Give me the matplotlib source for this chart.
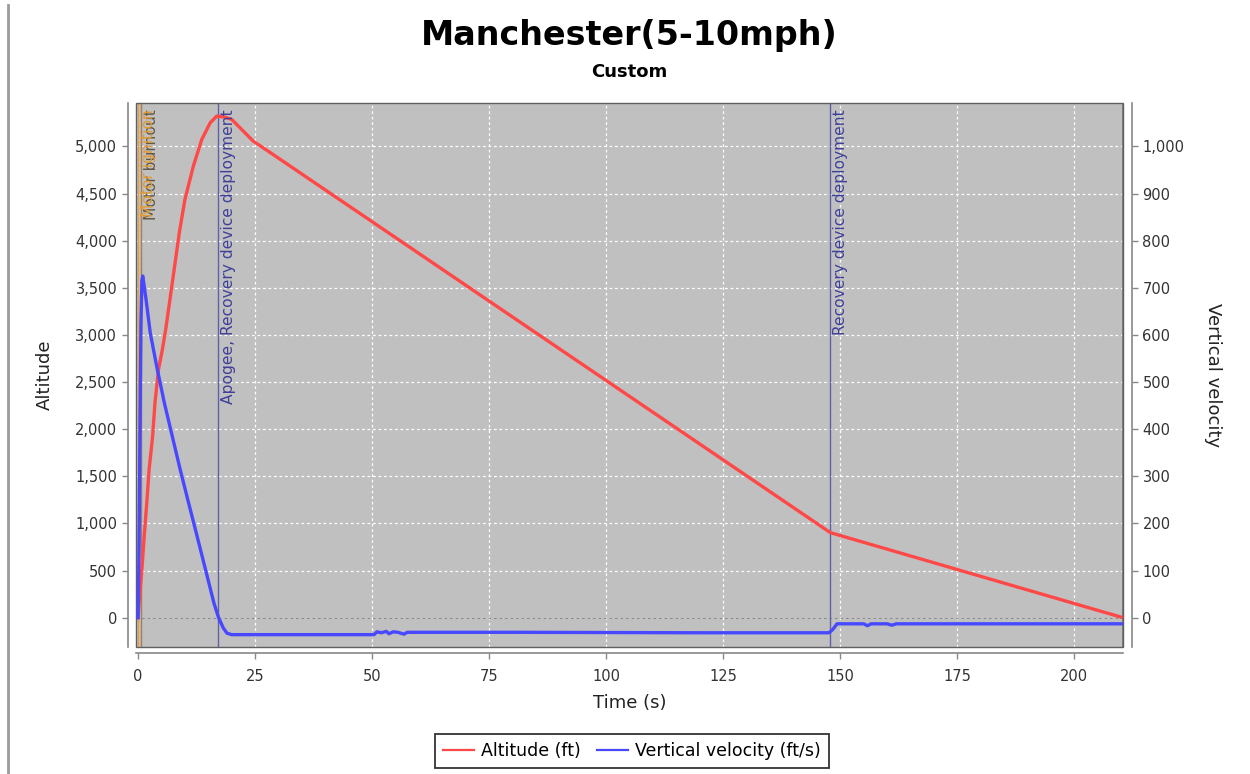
import matplotlib
matplotlib.use("Agg")
import matplotlib.pyplot as plt
from matplotlib.ticker import FuncFormatter
from matplotlib.transforms import offset_copy
from matplotlib.patches import Rectangle
from matplotlib.lines import Line2D

plt.rcParams['font.family'] = ['DejaVu Sans']

# ---------------- data ----------------
title = "Manchester(5-10mph)"
subtitle = "Custom"

t_alt = [0, 0.2, 0.8, 1.3, 1.85, 2.35, 3.1, 3.6, 4.35, 5.2, 5.9, 6.8, 7.8, 8.8,
         10.0, 11.8, 13.6, 15.4, 16.8, 18.6, 20.0, 24.6, 28.2, 147.9, 210.4]
altitude = [0, 154, 508, 862, 1217, 1571, 1925, 2279, 2633, 2850, 3060, 3376, 3730, 4084,
            4437, 4791, 5074, 5251, 5322, 5310, 5287, 5056, 4936, 902, 0]

t_vel = [0, 0.2, 0.4, 0.6, 0.8, 1.0, 1.7, 2.6, 4.0, 5.6, 7.3, 9.0, 10.8, 12.6,
         14.4, 16.2, 17.2, 18.2, 19.0, 20.0, 35.0, 50.4, 51.0, 52.0, 53.0, 53.6,
         54.5, 55.5, 56.8, 57.5, 80.0, 120.0, 147.6, 148.4, 149.3, 155.0, 155.8,
         156.6, 160.0, 161.0, 162.0, 180.0, 210.4]
velocity = [0, 150, 400, 620, 715, 725, 675, 604, 532, 456, 385, 314, 243, 173,
            102, 31, 0, -22, -33, -36, -36, -36, -30, -32, -29, -34,
            -30, -31, -35, -31, -31, -32, -32, -25, -13, -13, -17,
            -13, -13, -16, -13, -13, -13]

event_times = [0.65, 0.0, 17.1, 147.9]
event_labels = ["Motor burnout", "Motor ignition",
                "Apogee, Recovery device deployment", "Recovery device deployment"]
event_line_colors = ["#A08060", "#E8A040", "#6060A8", "#6060A8"]
event_text_colors = ["#605848", "#E39B2E", "#40409A", "#40409A"]
sim_end = [210.3]

x_ticks = [0, 25, 50, 75, 100, 125, 150, 175, 200]
alt_ticks = list(range(0, 5001, 500))
vel_ticks = list(range(0, 1001, 100))

# ---------------- figure ----------------
W, H = 1250, 774
fig = plt.figure(figsize=(W / 100, H / 100), dpi=100)
fig.patch.set_facecolor("white")

L, R, T, B = 136, 1123, 103, 647
ax = fig.add_axes([L / W, 1 - B / H, (R - L) / W, (B - T) / H])
ax2 = ax.twinx()

ax.set_facecolor("#C0C0C0")
ax.set_xlim(-0.45, 210.4)
ax.set_ylim(-311, 5461)
ax2.set_ylim(-62.2, 1092.2)

# grid
ax.set_axisbelow(True)
ax.set_xticks(x_ticks)
ax.set_yticks(alt_ticks)
ax2.set_yticks(vel_ticks)
ax.grid(True, color="white", linestyle=(0, (2.2, 2.2)), linewidth=0.9)
ax.axhline(0, color="#8A8A8A", linestyle=(0, (2.2, 2.2)), linewidth=0.9, zorder=1)

# event lines
for tv, c in zip(event_times, event_line_colors):
    ax.axvline(tv, color=c, linewidth=1.0, zorder=1.5)
for tv in sim_end:
    ax.axvline(tv, color="#7A7A7A", linewidth=2.0, zorder=1.5)

# data lines
l1, = ax.plot(t_alt, altitude, color="#FF4848", linewidth=2.4, zorder=3,
              solid_joinstyle="round", label="Altitude (ft)")
l2, = ax2.plot(t_vel, velocity, color="#4848FF", linewidth=2.4, zorder=3,
               solid_joinstyle="round", label="Vertical velocity (ft/s)")

# event labels
trans = offset_copy(ax.get_xaxis_transform(), fig=fig, x=3, y=0, units="dots")
for i, (tv, lab, c) in enumerate(zip(event_times, event_labels, event_text_colors)):
    ax.text(tv, 0.988, lab, rotation=90, ha="left", va="top", color=c,
            fontsize=11.2, transform=trans, zorder=4 + i * 0.1)

# spines / axes
axis_col = "#888888"
for s in ["top", "right"]:
    ax.spines[s].set_visible(False)
for s in ["top", "left", "bottom"]:
    ax2.spines[s].set_visible(False)
ax.spines["left"].set_position(("outward", 6))
ax.spines["bottom"].set_position(("outward", 4.5))
ax2.spines["right"].set_position(("outward", 6.5))
for sp in [ax.spines["left"], ax.spines["bottom"], ax2.spines["right"]]:
    sp.set_color(axis_col)
    sp.set_linewidth(1.2)

ax.add_patch(Rectangle((0, 0), 1, 1, transform=ax.transAxes, fill=False,
                       edgecolor="#606060", linewidth=1.0, zorder=5, clip_on=False))

fmt = FuncFormatter(lambda v, p: f"{v:,.0f}")
ax.yaxis.set_major_formatter(fmt)
ax2.yaxis.set_major_formatter(fmt)
ax.tick_params(axis="y", colors=axis_col, labelcolor="#333333", labelsize=10.5,
               length=4, width=1)
ax.tick_params(axis="x", colors=axis_col, labelcolor="#333333", labelsize=10.5,
               length=4, width=1, pad=7)
ax2.tick_params(axis="y", colors=axis_col, labelcolor="#333333", labelsize=10.5,
                length=4, width=1)

ax.set_xlabel("Time (s)", fontsize=13, color="#222222", va="center")
ax.xaxis.set_label_coords(0.5, (B - 703) / (B - T))
ax.set_ylabel("Altitude", fontsize=13, color="#222222", va="center", ha="center")
ax.yaxis.set_label_coords((45 - L) / (R - L), 0.5)
ax2.set_ylabel("Vertical velocity", fontsize=13, color="#222222", rotation=270,
               va="center", ha="center")
ax2.yaxis.set_label_coords((1213 - L) / (R - L), 0.5)

# titles
fig.text(0.5036, 1 - 35 / H, title, ha="center", va="center", fontsize=24,
         fontweight="bold", color="black")
fig.text(0.5036, 1 - 72 / H, subtitle, ha="center", va="center", fontsize=13,
         fontweight="bold", color="black")

# legend
leg = fig.legend(handles=[l1, l2], loc="center", bbox_to_anchor=(632 / W, 1 - 751 / H),
                 ncol=2, fontsize=12.5, frameon=True, fancybox=False,
                 handlelength=1.8, handletextpad=0.4, columnspacing=0.9,
                 borderpad=0.45, edgecolor="black")
leg.get_frame().set_linewidth(1.3)
for h in leg.legend_handles:
    h.set_linewidth(1.6)

# left screenshot edge line
fig.add_artist(Line2D([8 / W, 8 / W], [0, 1 - 5 / H], transform=fig.transFigure,
                      color="#9A9A9A", linewidth=2))

fig.savefig("out.png", dpi=100, facecolor="white")
